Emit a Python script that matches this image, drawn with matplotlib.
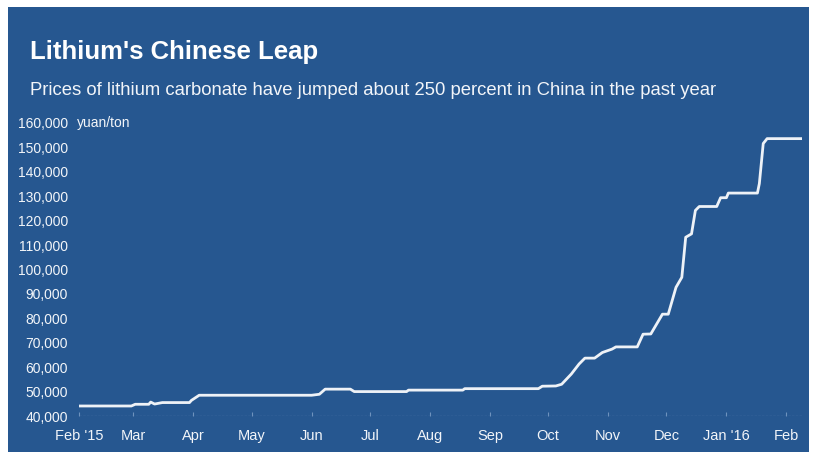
import matplotlib
matplotlib.use("Agg")
import matplotlib.pyplot as plt
import matplotlib.transforms as mtransforms
from matplotlib.patches import Rectangle
import datetime as dt

plt.rcParams['font.family'] = ['Liberation Sans', 'DejaVu Sans']

title = "Lithium's Chinese Leap"
subtitle = "Prices of lithium carbonate have jumped about 250 percent in China in the past year"
unit_label = "yuan/ton"

dates = [
    "2015-02-01", "2015-02-28", "2015-03-02", "2015-03-09", "2015-03-10", "2015-03-12",
    "2015-03-16", "2015-03-30", "2015-03-31", "2015-04-04", "2015-06-01", "2015-06-05",
    "2015-06-08", "2015-06-21", "2015-06-23", "2015-07-20", "2015-07-21", "2015-08-18",
    "2015-08-19", "2015-09-26", "2015-09-28", "2015-10-05", "2015-10-08", "2015-10-13",
    "2015-10-17", "2015-10-20", "2015-10-25", "2015-10-29", "2015-11-03", "2015-11-05",
    "2015-11-16", "2015-11-19", "2015-11-23", "2015-11-27", "2015-11-29", "2015-12-02",
    "2015-12-04", "2015-12-06", "2015-12-09", "2015-12-10", "2015-12-11", "2015-12-14",
    "2015-12-16", "2015-12-18", "2015-12-27", "2015-12-29", "2016-01-01", "2016-01-02",
    "2016-01-17", "2016-01-18", "2016-01-20", "2016-01-22", "2016-02-09",
]
prices = [
    44100, 44100, 44800, 44800, 45700, 44900,
    45500, 45500, 46400, 48500, 48500, 48900,
    51000, 51000, 50000, 50000, 50600, 50600,
    51200, 51200, 52200, 52300, 53000, 57200,
    61300, 63700, 63700, 66000, 67400, 68300,
    68300, 73500, 73600, 79000, 81700, 81700,
    87200, 92700, 96800, 105000, 113200, 114600,
    124200, 125800, 125800, 129400, 129400, 131300,
    131300, 135200, 151600, 153600, 153600,
]

y_ticks = [40000, 50000, 60000, 70000, 80000, 90000, 100000, 110000,
           120000, 130000, 140000, 150000, 160000]
x_tick_dates = ["2015-02-01", "2015-03-01", "2015-04-01", "2015-05-01", "2015-06-01",
                "2015-07-01", "2015-08-01", "2015-09-01", "2015-10-01", "2015-11-01",
                "2015-12-01", "2016-01-01", "2016-02-01"]
x_tick_labels = ["Feb '15", "Mar", "Apr", "May", "Jun", "Jul", "Aug", "Sep",
                 "Oct", "Nov", "Dec", "Jan '16", "Feb"]

BLUE = "#265790"
TXT = "#f2f5f9"

W, H = 817, 465
fig = plt.figure(figsize=(W / 100, H / 100), dpi=100)
fig.patch.set_facecolor("white")
fig.add_artist(Rectangle((8 / W, 1 - 452 / H), (809 - 8) / W, (452 - 7) / H,
                         transform=fig.transFigure, facecolor=BLUE, edgecolor="none", zorder=0))

ax = fig.add_axes([79 / W, 1 - 416 / H, (802 - 79) / W, (416 - 123) / H])
ax.set_facecolor("none")

d = [dt.datetime.strptime(s, "%Y-%m-%d") for s in dates]
ax.plot(d, prices, color="#eef2f7", lw=2.0, solid_joinstyle="round", zorder=3)

ax.set_ylim(40000, 160000)
ax.set_xlim(dt.datetime(2015, 2, 1), dt.datetime(2016, 2, 9))
ax.set_yticks(y_ticks)
ax.set_yticklabels([f"{v:,}" for v in y_ticks])
xt = [dt.datetime.strptime(s, "%Y-%m-%d") for s in x_tick_dates]
ax.set_xticks(xt)
ax.set_xticklabels(x_tick_labels)

for s in ax.spines.values():
    s.set_visible(False)
ax.axhline(40000, color="#5f86b5", lw=0.9, ls=(0, (2, 1)), zorder=1)

ax.tick_params(axis="y", length=0, pad=8, labelsize=10, labelcolor=TXT)
ax.tick_params(axis="x", length=3, width=0.8, direction="in", color="#6e92bd",
               pad=9, labelsize=10.5, labelcolor=TXT)

trans = mtransforms.offset_copy(
    mtransforms.blended_transform_factory(ax.transAxes, ax.transData),
    fig=fig, x=-2, y=0, units="dots")
ax.text(0, 160000, unit_label, transform=trans, ha="left", va="center",
        fontsize=10, color=TXT)

fig.text(30 / W, 1 - 52 / H, title, fontsize=18.5, fontweight="bold", color="white",
         ha="left", va="center")
fig.text(30 / W, 1 - 90 / H, subtitle, fontsize=13.3, color=TXT, ha="left", va="center")

fig.savefig("out.png", dpi=100, facecolor=fig.get_facecolor())
